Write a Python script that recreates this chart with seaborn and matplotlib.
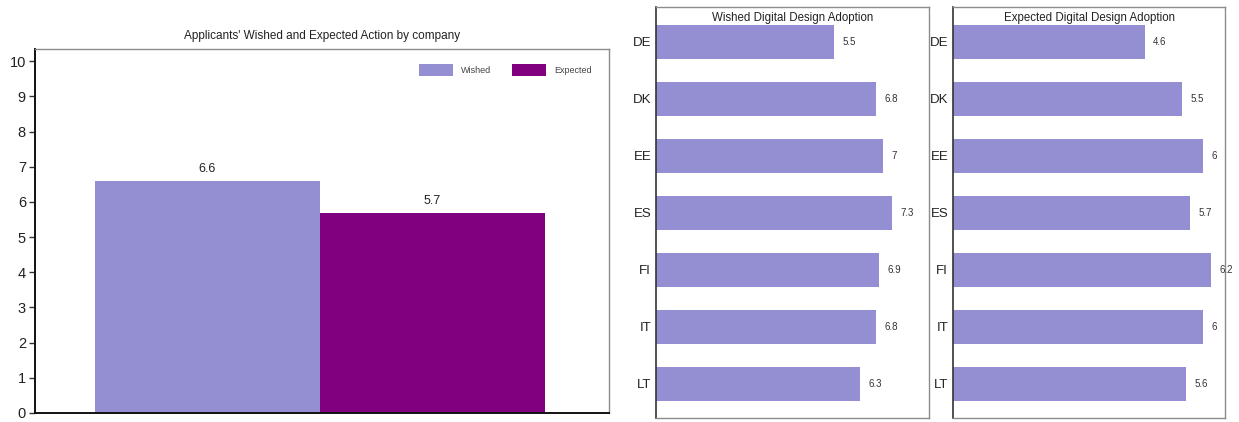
import matplotlib
matplotlib.use("Agg")
import matplotlib.pyplot as plt
import seaborn as sns
import pandas as pd

sns.set_theme(style="white")
plt.rcParams["font.family"] = ["Liberation Sans", "DejaVu Sans"]

# Overall applicant scores
measures = ["Wished", "Expected"]
overall = [6.6, 5.7]

# Per-country adoption scores
countries = ["DE", "DK", "EE", "ES", "FI", "IT", "LT"]
wished = [5.5, 6.8, 7.0, 7.3, 6.9, 6.8, 6.3]
expected = [4.6, 5.5, 6.0, 5.7, 6.2, 6.0, 5.6]

LAVENDER = "#938fd2"
PURPLE = "#800080"
FRAME = "#8c8c8c"

fig = plt.figure(figsize=(12.39, 4.22), dpi=100)

# ---- grouped overall bars ----
ax = fig.add_axes([35 / 1239, 9 / 422, 574 / 1239, 364 / 422])
df = pd.DataFrame({"group": [""] * 2, "measure": measures, "score": overall})
sns.barplot(data=df, x="group", y="score", hue="measure",
            palette=[LAVENDER, PURPLE], width=0.784, saturation=1,
            ax=ax, linewidth=0)
for cont in ax.containers:
    ax.bar_label(cont, labels=[f"{v:g}" for v in cont.datavalues],
                 padding=4, fontsize=9, color="#222222")
ax.set_xlim(-0.4965, 0.5035)
ax.set_ylim(0, 10.35)
ax.set_yticks(range(0, 11))
ax.set_xlabel("")
ax.set_ylabel("")
ax.set_xticks([])
ax.tick_params(axis="y", left=True, length=4, width=1, color="#333333",
               labelsize=10.5, pad=2.5, labelcolor="#222222")
ax.set_title("Applicants' Wished and Expected Action by company",
             fontsize=8.5, pad=7, color="#222222")
for s in ("top", "right"):
    ax.spines[s].set_color(FRAME)
    ax.spines[s].set_linewidth(1)
for s in ("left", "bottom"):
    ax.spines[s].set_color("#111111")
    ax.spines[s].set_linewidth(1.4)
ax.legend(loc="upper right", ncol=2, frameon=False, fontsize=6.5,
          handlelength=3.8, handleheight=1.7, columnspacing=2.3,
          handletextpad=0.9, borderaxespad=0,
          bbox_to_anchor=(0.977, 0.97), labelcolor="#444444")

# ---- per-country horizontal bars ----
def country_panel(rect, values, title, xmax):
    a = fig.add_axes(rect)
    sns.barplot(x=values, y=countries, orient="h", color=LAVENDER,
                saturation=1, width=0.6, ax=a, linewidth=0)
    for cont in a.containers:
        a.bar_label(cont, labels=[f"{v:g}" for v in cont.datavalues],
                    padding=6, fontsize=7, color="#333333")
    a.set_xlim(0, xmax)
    a.set_ylim(6.6, -0.61)
    a.set_xticks([])
    a.set_xlabel("")
    a.set_ylabel("")
    a.tick_params(axis="y", left=False, length=0, labelsize=9.5, pad=3.5,
                  labelcolor="#222222")
    a.text(0.5, 0.988, title, transform=a.transAxes, ha="center",
           va="top", fontsize=8.3, color="#222222")
    for s in ("top", "right", "bottom"):
        a.spines[s].set_color(FRAME)
        a.spines[s].set_linewidth(1)
    a.spines["left"].set_color("#333333")
    a.spines["left"].set_linewidth(1.2)
    return a

country_panel([656 / 1239, 4 / 422, 273 / 1239, 411 / 422], wished,
              "Wished Digital Design Adoption", 8.43)
country_panel([953 / 1239, 4 / 422, 272 / 1239, 411 / 422], expected,
              "Expected Digital Design Adoption", 6.53)

fig.savefig("out.png", dpi=100)
